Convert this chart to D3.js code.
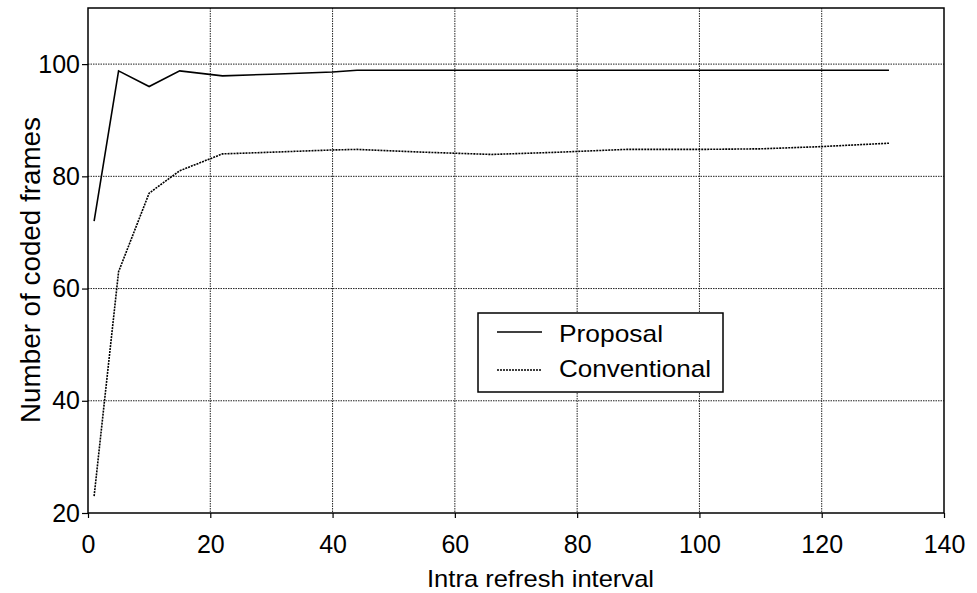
<!DOCTYPE html>
<html><head><meta charset="utf-8">
<script src="https://cdn.jsdelivr.net/npm/d3@7"></script>
<style>body{margin:0;background:#fff}svg{display:block}text{font-family:Arial,"Liberation Sans",sans-serif;fill:#000}</style>
</head><body><svg id="c" width="977" height="593"></svg>
<script>
const xValues = [1, 5, 10, 15, 22, 30, 40, 44, 55, 66, 77, 88, 100, 110, 120, 131];
const proposal = [72, 98.8, 96, 98.8, 97.9, 98.2, 98.6, 98.9, 98.9, 98.9, 98.9, 98.9, 98.9, 98.9, 98.9, 98.9];
const conventional = [23, 63, 77, 81, 84, 84.3, 84.7, 84.8, 84.3, 83.9, 84.3, 84.8, 84.8, 84.9, 85.3, 85.9];
const xTicks = [0, 20, 40, 60, 80, 100, 120, 140];
const yTicks = [20, 40, 60, 80, 100];
const seriesNames = ["Proposal", "Conventional"];

const svg = d3.select("#c");
const L = 88, R = 944, T = 8, B = 513;
const x = d3.scaleLinear().domain([0, 140]).range([L, R]);
const y = d3.scaleLinear().domain([20, 110]).range([B, T]);

// grid
svg.append("g").selectAll("line").data(xTicks.filter(d => d > 0 && d < 140)).join("line")
  .attr("x1", d => x(d)).attr("x2", d => x(d)).attr("y1", T).attr("y2", B)
  .attr("stroke", "#222").attr("stroke-width", 1).attr("stroke-dasharray", "1.5,1");
svg.append("g").selectAll("line").data(yTicks.filter(d => d > 20)).join("line")
  .attr("y1", d => y(d)).attr("y2", d => y(d)).attr("x1", L).attr("x2", R)
  .attr("stroke", "#222").attr("stroke-width", 1).attr("stroke-dasharray", "1.5,1");

// frame
svg.append("rect").attr("x", L).attr("y", T).attr("width", R - L).attr("height", B - T)
  .attr("fill", "none").attr("stroke", "#000").attr("stroke-width", 1.5);

// axes
const xa = svg.append("g").attr("transform", `translate(0,${B})`)
  .call(d3.axisBottom(x).tickValues(xTicks).tickSize(5).tickPadding(17).tickFormat(d3.format("d")));
const ya = svg.append("g").attr("transform", `translate(${L},0)`)
  .call(d3.axisLeft(y).tickValues(yTicks).tickSize(6).tickPadding(2).tickFormat(d3.format("d")));
[xa, ya].forEach(g => {
  g.select(".domain").remove();
  g.selectAll("line").attr("stroke", "#000").attr("stroke-width", 1.2);
  g.selectAll("text").attr("font-size", 25).attr("font-family", "Arial, 'Liberation Sans', sans-serif").attr("fill", "#000");
});

// lines
const line = d3.line().x((d, i) => x(xValues[i])).y(d => y(d));
svg.append("path").datum(proposal).attr("d", line).attr("fill", "none")
  .attr("stroke", "#000").attr("stroke-width", 1.6);
svg.append("path").datum(conventional).attr("d", line).attr("fill", "none")
  .attr("stroke", "#000").attr("stroke-width", 1.6).attr("stroke-dasharray", "2,1");

// axis titles
svg.append("text").attr("x", 427).attr("y", 587)
  .attr("font-size", 24).attr("textLength", 227).attr("lengthAdjust", "spacingAndGlyphs")
  .text("Intra refresh interval");
svg.append("text").attr("transform", `translate(40,270) rotate(-90)`).attr("text-anchor", "middle")
  .attr("font-size", 27).attr("textLength", 306).attr("lengthAdjust", "spacingAndGlyphs")
  .text("Number of coded frames");

// legend
const lg = svg.append("g");
lg.append("rect").attr("x", 478).attr("y", 313).attr("width", 245).attr("height", 79)
  .attr("fill", "#fff").attr("stroke", "#000").attr("stroke-width", 1.5);
const ly = [332, 370];
const lb = [342, 377];
const lw = [104, 152];
seriesNames.forEach((n, i) => {
  lg.append("line").attr("x1", 497).attr("x2", 542).attr("y1", ly[i]).attr("y2", ly[i])
    .attr("stroke", "#000").attr("stroke-width", 1.5).attr("stroke-dasharray", i ? "2,1" : null);
  lg.append("text").attr("x", 559).attr("y", lb[i]).attr("font-size", 24)
    .attr("textLength", lw[i]).attr("lengthAdjust", "spacingAndGlyphs").text(n);
});
</script></body></html>
